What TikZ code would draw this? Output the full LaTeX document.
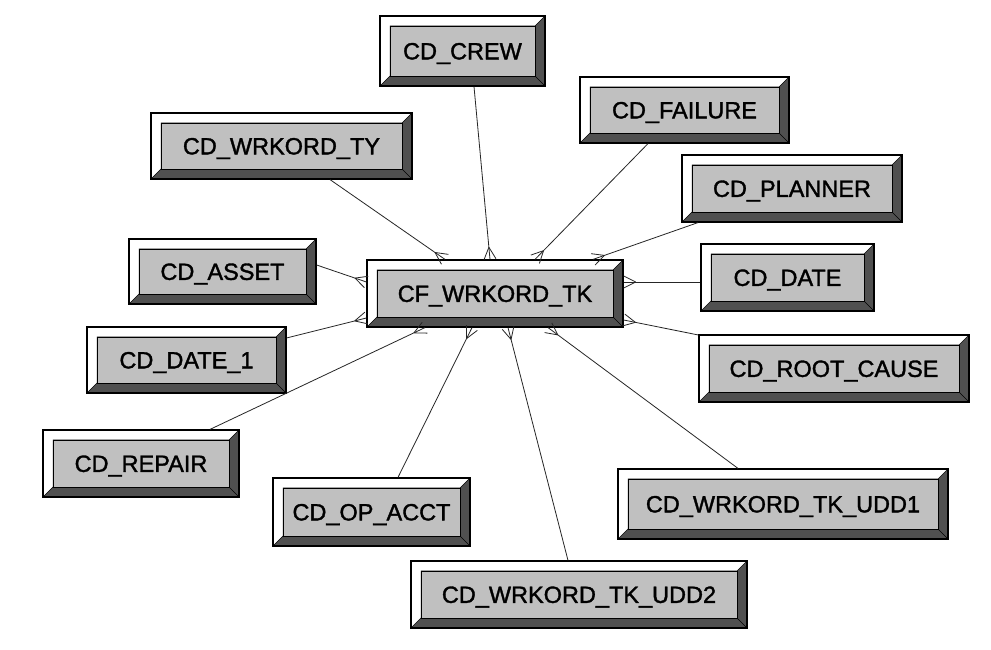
\documentclass[tikz,border=0pt]{standalone}
\usepackage{fontspec}
\setmainfont{Liberation Sans}
\newfontfamily\boxfont[FakeBold=1.5]{Liberation Sans}
\usetikzlibrary{decorations.markings}
\definecolor{bevdark}{HTML}{505050}
\definecolor{bevface}{HTML}{C0C0C0}
\tikzset{
  bevelbox/.style={rectangle, draw=black, line width=1.2pt, fill=bevdark, inner sep=0pt,
    minimum height=66pt, font=\boxfont\fontsize{23.5}{28}\selectfont, text=black,
    text height=16.8pt, text depth=0pt,
    path picture={
      \fill[white, draw=black, line width=0.5pt]
        (path picture bounding box.north west) -- (path picture bounding box.north east)
        -- ([shift={(-10pt,-10pt)}]path picture bounding box.north east)
        -- ([shift={(10pt,-10pt)}]path picture bounding box.north west)
        -- ([shift={(10pt,10pt)}]path picture bounding box.south west)
        -- (path picture bounding box.south west) -- cycle;
      \draw[fill=bevface, line width=0.6pt]
        ([shift={(10pt,-10pt)}]path picture bounding box.north west) rectangle
        ([shift={(-10pt,10pt)}]path picture bounding box.south east);
      \draw[line width=0.5pt] (path picture bounding box.south east) -- ++(-10pt,10pt);
    }},
  link/.style={draw=black!85, line width=0.8pt, postaction={decorate},
    decoration={markings, mark=at position 0.999 with {
      \draw[black!85, line width=0.8pt] (-12pt,0) -- (0,6pt) (-12pt,0) -- (0,-6pt);}}}
}
\begin{document}
\begin{tikzpicture}[x=1pt,y=1pt]
\fill[white] (0,0) rectangle (991,650);
\useasboundingbox (0,0) rectangle (991,650);

\node[bevelbox, minimum width=256pt, minimum height=67pt] (fact) at (495,356.5) {CF\_WRKORD\_TK};

\node[bevelbox, minimum width=165pt, minimum height=70pt] (crew) at (462.5,599) {CD\_CREW};
\node[bevelbox, minimum width=209pt] (failure) at (684.5,540) {CD\_FAILURE};
\node[bevelbox, minimum width=261pt] (wrkordty) at (281.5,504) {CD\_WRKORD\_TY};
\node[bevelbox, minimum width=220pt, minimum height=67pt] (planner) at (792,461.5) {CD\_PLANNER};
\node[bevelbox, minimum width=187pt, minimum height=65pt] (asset) at (222.5,378.5) {CD\_ASSET};
\node[bevelbox, minimum width=173pt, minimum height=67pt] (date) at (787.5,372.5) {CD\_DATE};
\node[bevelbox, minimum width=199pt] (date1) at (186.5,290) {CD\_DATE\_1};
\node[bevelbox, minimum width=270pt, minimum height=67pt] (root) at (834,281.5) {CD\_ROOT\_CAUSE};
\node[bevelbox, minimum width=196pt, minimum height=67pt] (repair) at (141,186.5) {CD\_REPAIR};
\node[bevelbox, minimum width=197pt, minimum height=68pt] (opacct) at (371.5,138) {CD\_OP\_ACCT};
\node[bevelbox, minimum width=330pt, minimum height=70pt] (udd1) at (783,146) {CD\_WRKORD\_TK\_UDD1};
\node[bevelbox, minimum width=336pt, minimum height=67pt] (udd2) at (579,55.5) {CD\_WRKORD\_TK\_UDD2};

\path[link] ([xshift=11.5pt]crew.south) -- ([xshift=-5pt]fact.north);
\path[link] ([xshift=-36.5pt]failure.south) -- ([xshift=40pt]fact.north);
\path[link] ([xshift=48.5pt]wrkordty.south) -- ([xshift=-50pt]fact.north);
\path[link] ([xshift=-94pt]planner.south) -- ([xshift=98pt]fact.north);
\path[link] ([yshift=6.5pt]asset.east) -- ([yshift=11.5pt]fact.west);
\path[link] ([yshift=-4.5pt]date.west) -- ([yshift=11.5pt]fact.east);
\path[link] ([yshift=22pt]date1.east) -- ([yshift=-24.5pt]fact.west);
\path[link] ([yshift=33.5pt]root.west) -- ([yshift=-26.5pt]fact.east);
\path[link] ([xshift=69pt]repair.north) -- ([xshift=-70pt]fact.south);
\path[link] ([xshift=26.5pt]opacct.north) -- ([xshift=-23pt]fact.south);
\path[link] ([xshift=-11pt]udd2.north) -- ([xshift=13pt]fact.south);
\path[link] ([xshift=-45pt]udd1.north) -- ([xshift=53pt]fact.south);
\end{tikzpicture}
\end{document}
